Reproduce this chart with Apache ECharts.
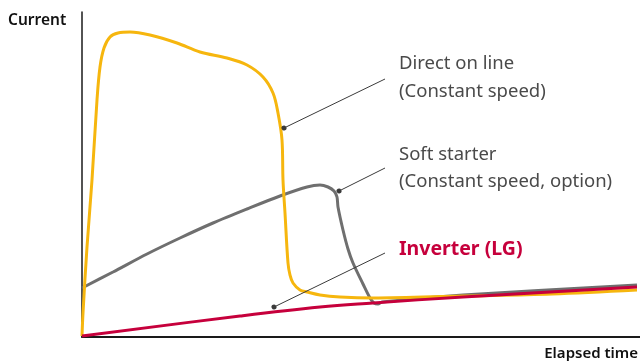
<!DOCTYPE html>
<html>
<head>
<meta charset="utf-8">
<script src="https://cdn.jsdelivr.net/npm/echarts@6/dist/echarts.min.js"></script>
<style>
  html, body { margin: 0; padding: 0; background: #fff; }
  #chart { width: 640px; height: 362px; }
</style>
</head>
<body>
<div id="chart"></div>
<script>
// elapsed time / current, arbitrary units
const directOnLine = [
  [0, 1], [1, 24], [5, 90], [10, 157], [15, 237], [18, 270], [22, 289], [28, 300],
  [36, 304], [48, 305], [68, 302], [95, 294], [118, 285], [145, 279], [165, 272],
  [181, 260], [191, 244], [196, 224], [200, 197], [201, 157], [203, 124], [206, 74],
  [208, 62], [211, 54], [218, 47], [225, 45], [238, 42], [258, 40], [291, 39],
  [381, 41], [470, 43], [555, 47]
]
const softStarter = [
  [0, 49], [31, 65], [65, 83], [98, 99], [131, 114], [165, 128], [198, 141],
  [225, 150], [238, 152], [246, 150], [252, 146], [255, 140], [256, 130],
  [261, 107], [266, 88], [271, 74], [281, 53], [288, 39],
  [292, 34], [296, 33], [300, 35], [381, 42], [555, 52]
]
const inverter = [
  [0, 1], [158, 21], [238, 30], [291, 34], [381, 40], [555, 50]
]

// leader lines: [dot on curve, outer end]
const dolLeader = [[202, 209], [303, 258]]
const softLeader = [[257, 146], [303, 169]]
const invLeader = [[192, 30], [303, 84]]

// label anchors (left x, centre y of each text line)
const dolText = { x: 317, lines: [[273, 'Direct on line'], [245, '(Constant speed)']] }
const softText = { x: 317, lines: [[182, 'Soft starter'], [155, '(Constant speed, option)']] }
const invText = { x: 317, lines: [[88, 'Inverter (LG)']] }

const yellow = '#F6B60E'
const gray = '#6f6f6f'
const red = '#C6003C'
const textGray = '#4a4a4a'

const chart = echarts.init(document.getElementById('chart'))

function leader(pts) {
  return {
    silent: true,
    animation: false,
    symbol: ['circle', 'none'],
    symbolSize: 5,
    lineStyle: { color: '#3a3a3a', width: 1, type: 'solid' },
    label: { show: false },
    emphasis: { disabled: true },
    data: [[{ coord: pts[0] }, { coord: pts[1] }]]
  }
}

chart.setOption({
  animation: false,
  grid: { left: 82, right: 0, top: 12, bottom: 25 },
  xAxis: {
    type: 'value', min: 0, max: 558,
    axisLine: { show: true, onZero: false, lineStyle: { color: '#1a1a1a', width: 2 } },
    axisTick: { show: false }, axisLabel: { show: false }, splitLine: { show: false }
  },
  yAxis: {
    type: 'value', min: 0, max: 325,
    axisLine: { show: true, onZero: false, lineStyle: { color: '#1a1a1a', width: 1.5 } },
    axisTick: { show: false }, axisLabel: { show: false }, splitLine: { show: false }
  },
  series: [
    {
      name: 'Soft starter', type: 'line', data: softStarter, smooth: 0.3,
      showSymbol: false, z: 2,
      lineStyle: { color: gray, width: 3 },
      markLine: leader(softLeader)
    },
    {
      name: 'Direct on line', type: 'line', data: directOnLine, smooth: 0.35,
      showSymbol: false, z: 3,
      lineStyle: { color: yellow, width: 3 },
      markLine: leader(dolLeader)
    },
    {
      name: 'Inverter (LG)', type: 'line', data: inverter, smooth: 0.4,
      showSymbol: false, z: 4,
      lineStyle: { color: red, width: 3 },
      markLine: leader(invLeader)
    }
  ]
})

function textEls(block, color, weight, size) {
  return block.lines.map(function (l) {
    const p = chart.convertToPixel({ gridIndex: 0 }, [block.x, l[0]])
    return {
      type: 'text', x: p[0], y: p[1], silent: true,
      style: {
        text: l[1], fill: color, font: weight + ' ' + size + 'px "Noto Sans", sans-serif',
        textVerticalAlign: 'middle', textAlign: 'left'
      }
    }
  })
}

chart.setOption({
  graphic: [].concat(
    textEls(dolText, textGray, 'normal', 18.5),
    textEls(softText, textGray, 'normal', 18.5),
    textEls(invText, red, 'bold', 19.5),
    [
      {
        type: 'text', x: 8, y: 21, silent: true,
        style: { text: 'Current', fill: '#111', font: '600 15.5px "Noto Sans", sans-serif', textVerticalAlign: 'middle' }
      },
      {
        type: 'text', x: 638, y: 354, silent: true,
        style: { text: 'Elapsed time', fill: '#111', font: '600 15px "Noto Sans", sans-serif', textVerticalAlign: 'middle', textAlign: 'right' }
      }
    ]
  )
})
</script>
</body>
</html>
